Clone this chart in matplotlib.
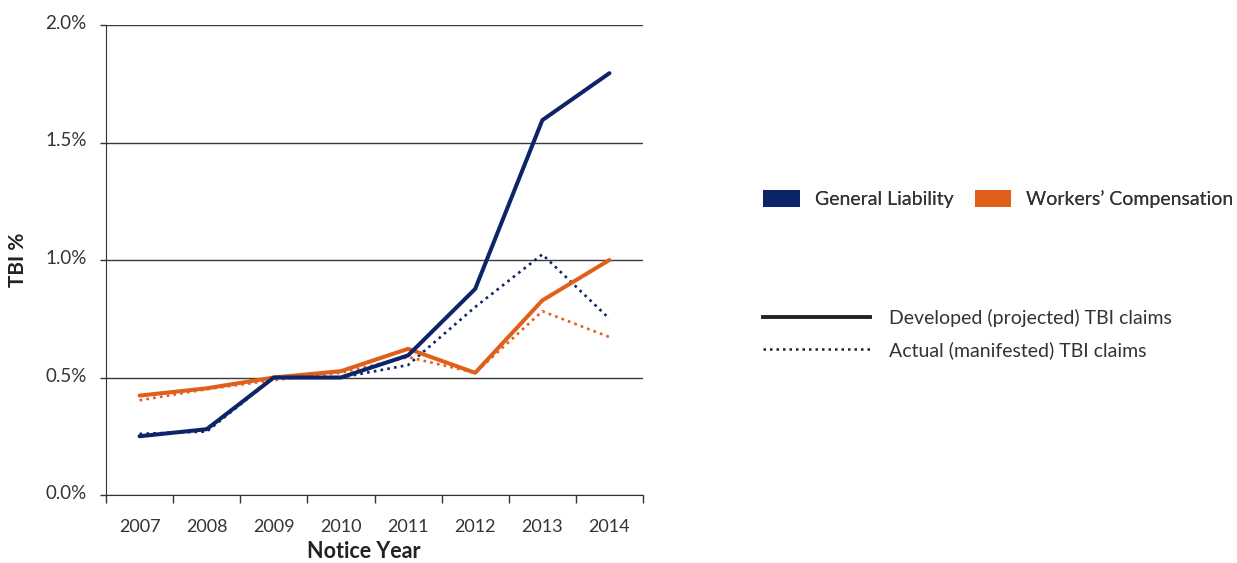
import matplotlib
matplotlib.use("Agg")
import matplotlib.pyplot as plt
from matplotlib.patches import Patch
from matplotlib.lines import Line2D
import matplotlib.transforms as mtransforms
import numpy as np

years = ["2007", "2008", "2009", "2010", "2011", "2012", "2013", "2014"]
gl_developed = [0.25, 0.28, 0.50, 0.50, 0.594, 0.877, 1.595, 1.795]
gl_actual = [0.26, 0.27, 0.50, 0.50, 0.553, 0.80, 1.024, 0.75]
wc_developed = [0.423, 0.454, 0.50, 0.527, 0.622, 0.52, 0.828, 1.00]
wc_actual = [0.403, 0.45, 0.489, 0.52, 0.587, 0.52, 0.782, 0.672]
yticks = [0.0, 0.5, 1.0, 1.5, 2.0]
ytick_labels = ["0.0%", "0.5%", "1.0%", "1.5%", "2.0%"]

NAVY = "#0d2468"
ORANGE = "#e0601b"
TXT = "#333333"

plt.rcParams['font.family'] = ['Lato', 'DejaVu Sans']

fig = plt.figure(figsize=(12.37, 5.63), dpi=100)
ax = fig.add_axes([106/1237, 1-495/563, (643-106)/1237, (495-25)/563])

x = np.arange(len(years))
ax.plot(x, gl_actual, color=NAVY, lw=1.9, linestyle=(0, (1, 1.6)), zorder=3)
ax.plot(x, wc_actual, color=ORANGE, lw=1.9, linestyle=(0, (1, 1.6)), zorder=3)
ax.plot(x, wc_developed, color=ORANGE, lw=2.9, solid_capstyle='round', zorder=4)
ax.plot(x, gl_developed, color=NAVY, lw=2.9, solid_capstyle='round', zorder=5)

ax.set_xlim(-0.5, len(years) - 0.5)
ax.set_ylim(0, 2.0)
ax.set_yticks(yticks)
ax.set_yticklabels(ytick_labels)
ax.set_xticks(x)
ax.set_xticklabels(years)
ax.set_xticks(np.arange(-0.5, len(years)), minor=True)
ax.tick_params(axis='x', which='major', length=0, pad=17, labelsize=13, colors=TXT)
ax.tick_params(axis='x', which='minor', length=6, width=1, color='#333333')
ax.tick_params(axis='y', length=4, width=1, color='#333333', pad=10, labelsize=13.5, labelcolor=TXT)
offset = mtransforms.ScaledTranslation(0, 3/100, fig.dpi_scale_trans)
for t in ax.get_yticklabels():
    t.set_transform(t.get_transform() + offset)

ax.grid(axis='y', color='#3a3a3a', lw=1)
ax.set_axisbelow(True)
for s in ['top', 'right']:
    ax.spines[s].set_visible(False)
ax.spines['left'].set_color('#333333')
ax.spines['bottom'].set_color('#333333')

ax.set_ylabel("TBI %", fontsize=15, fontweight='bold', color='#222222', labelpad=12)
ax.set_xlabel("Notice Year", fontsize=15.5, fontweight='bold', color='#222222')
ax.xaxis.set_label_coords(0.48, -0.098)

fs = 14
leg1 = fig.legend(handles=[Patch(facecolor=NAVY, edgecolor='none', label="General Liability"),
                           Patch(facecolor=ORANGE, edgecolor='none', label="Workers\u2019 Compensation")],
                  loc='center left', bbox_to_anchor=(763/1237, 1-199/563), ncol=2, frameon=False,
                  fontsize=fs, handlelength=1.9, handleheight=1.0, handletextpad=0.75,
                  columnspacing=1.1, labelcolor=TXT, borderaxespad=0, borderpad=0)
fig.add_artist(leg1)
leg2 = fig.legend(handles=[Line2D([], [], color='#222222', lw=2.8, label="Developed (projected) TBI claims"),
                           Line2D([], [], color='#222222', lw=1.8, linestyle=(0, (1, 1.6)), label="Actual (manifested) TBI claims")],
                  loc='center left', bbox_to_anchor=(763/1237, 1-334/563), frameon=False,
                  fontsize=fs, handlelength=5.5, handletextpad=1.0, labelspacing=0.7,
                  labelcolor=TXT, borderaxespad=0, borderpad=0)

fig.savefig("out.png", dpi=100)
